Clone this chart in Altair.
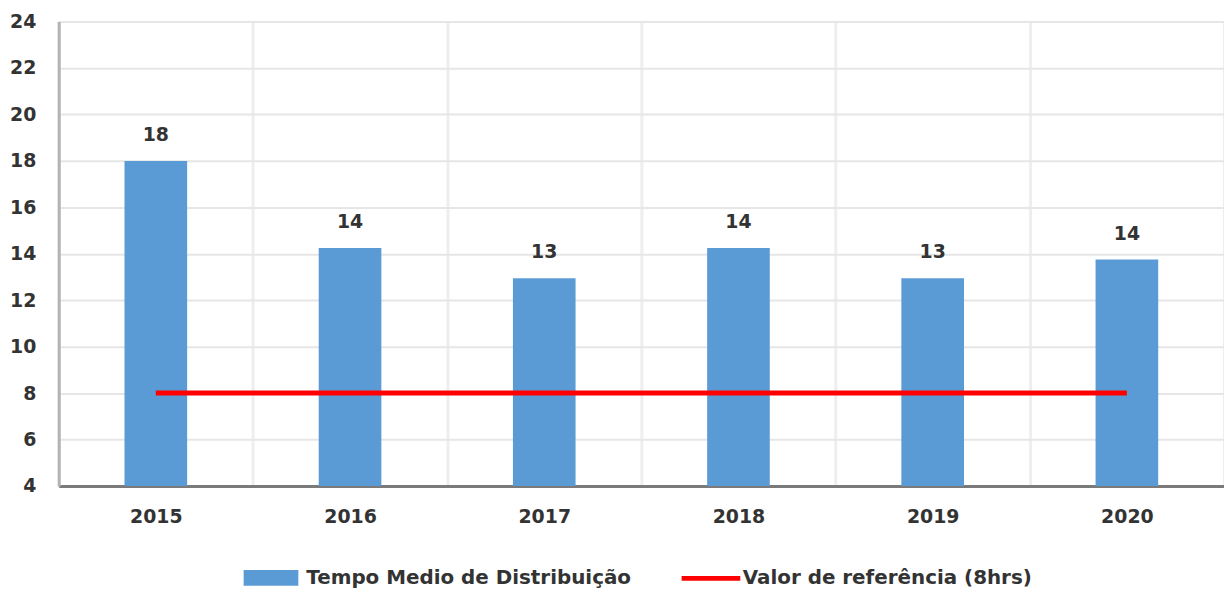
import altair as alt
import pandas as pd

anos = ["2015", "2016", "2017", "2018", "2019", "2020"]
tempo_medio = [18.0, 14.25, 12.95, 14.25, 12.95, 13.75]
rotulos = ["18", "14", "13", "14", "13", "14"]
referencia = [8, 8, 8, 8, 8, 8]
serie_barra = "Tempo Medio de Distribuição"
serie_ref = "Valor de referência (8hrs)"
y_ticks = [4, 6, 8, 10, 12, 14, 16, 18, 20, 22, 24]

FONT = "DejaVu Sans"
TXT = "#333333"
FS = 19

bars_df = pd.DataFrame({"ano": anos, "valor": tempo_medio, "rotulo": rotulos, "serie": serie_barra})
ref_df = pd.DataFrame({"ano": anos, "valor": referencia, "serie": serie_ref})

x_enc = alt.X(
    "ano:N", sort=anos,
    scale=alt.Scale(paddingInner=0, paddingOuter=0),
    axis=alt.Axis(title=None, labelAngle=0, labelFont=FONT, labelFontSize=FS,
                  labelFontWeight="bold", labelColor=TXT, labelPadding=22,
                  ticks=False, domainColor="#7a7a7a", domainWidth=3,
                  grid=True, tickBand="extent", gridColor="#eeeeee", gridWidth=3),
)
y_scale = alt.Scale(domain=[4, 24], nice=False, zero=False)
y_enc = alt.Y(
    "valor:Q", scale=y_scale,
    axis=alt.Axis(title=None, values=y_ticks, labelFont=FONT, labelFontSize=FS,
                  labelFontWeight="bold", labelColor=TXT, labelPadding=23,
                  ticks=False, domainColor="#b3b3b3", domainWidth=3,
                  gridColor="#e6e6e6", gridWidth=2),
)

legend_common = dict(
    orient="none", direction="horizontal", title=None,
    labelFont=FONT, labelFontSize=20, labelFontWeight="bold", labelColor=TXT,
    labelLimit=400,
)
bar_legend = alt.Legend(legendX=186, legendY=532, symbolType="M-1,-0.29H1V0.29H-1Z",
                        symbolSize=3025, symbolStrokeWidth=0, labelOffset=8, **legend_common)
line_legend = alt.Legend(legendX=624, legendY=528, symbolType="stroke",
                         symbolSize=3481, symbolStrokeWidth=5, labelOffset=0, **legend_common)

bars = alt.Chart(bars_df).mark_bar(size=63, clip=True).encode(
    x=x_enc, y=y_enc,
    color=alt.Color("serie:N", scale=alt.Scale(domain=[serie_barra], range=["#5b9bd5"]),
                    legend=bar_legend),
)
labels = alt.Chart(bars_df).mark_text(
    dy=-20, baseline="alphabetic", font=FONT, fontSize=FS, fontWeight="bold", color=TXT
).encode(x=alt.X("ano:N", sort=anos), y=alt.Y("valor:Q", scale=y_scale), text="rotulo:N")
line = alt.Chart(ref_df).mark_line(strokeWidth=5).encode(
    x=alt.X("ano:N", sort=anos), y=alt.Y("valor:Q", scale=y_scale),
    stroke=alt.Stroke("serie:N", scale=alt.Scale(domain=[serie_ref], range=["#ff0000"]),
                      legend=line_legend),
)

chart = alt.layer(bars, line, labels).properties(
    width=1172, height=467,
    autosize=alt.AutoSizeParams(type="none"),
    padding={"left": 51, "top": 12, "right": 0, "bottom": 102},
    background="white",
).configure_view(stroke=None)

chart.save("out.html", embed_options={"renderer": "svg", "actions": False})
